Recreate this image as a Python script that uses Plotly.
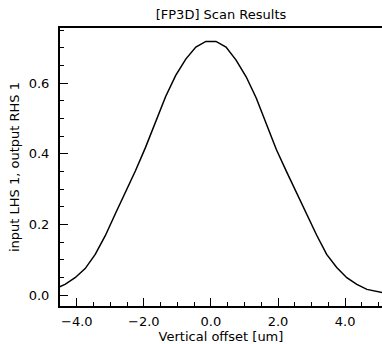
import plotly.graph_objects as go

offset_um = [-4.65, -4.35, -4.05, -3.75, -3.45, -3.15, -2.85, -2.55, -2.25, -1.95,
             -1.65, -1.35, -1.05, -0.75, -0.45, -0.15, 0.15, 0.45, 0.75, 1.05,
             1.35, 1.65, 1.95, 2.25, 2.55, 2.85, 3.15, 3.45, 3.75, 4.05,
             4.35, 4.65, 4.95, 5.25]
signal = [0.018, 0.030, 0.049, 0.075, 0.115, 0.168, 0.230, 0.290, 0.352, 0.418,
          0.492, 0.562, 0.622, 0.668, 0.702, 0.718, 0.718, 0.702, 0.665, 0.618,
          0.558, 0.485, 0.412, 0.350, 0.290, 0.227, 0.170, 0.115, 0.078, 0.049,
          0.030, 0.016, 0.009, 0.004]

x_ticks = [-4, -2, 0, 2, 4]
x_labels = ["−4.0", "−2.0", "0.0", "2.0", "4.0"]
y_ticks = [0.0, 0.2, 0.4, 0.6]
y_labels = ["0.0", "0.2", "0.4", "0.6"]

font = "DejaVu Sans"

fig = go.Figure()
fig.add_trace(go.Scatter(x=offset_um, y=signal, mode="lines",
                         line=dict(color="black", width=1.5), showlegend=False))

fig.update_layout(
    width=382, height=344,
    margin=dict(l=60, r=0, t=28, b=38),
    paper_bgcolor="white", plot_bgcolor="white",
    font=dict(family=font, size=13, color="black"),
    title=dict(text="[FP3D] Scan Results", x=(60 + 382) / 2 / 382, xanchor="center",
               y=1 - 14 / 344, yanchor="middle", font=dict(size=13)),
)
fig.update_xaxes(
    range=[-4.5, 5.1], showgrid=False, zeroline=False,
    showline=True, linecolor="black", linewidth=2, mirror=True,
    tickmode="array", tickvals=x_ticks, ticktext=x_labels,
    ticks="inside", ticklen=8, tickwidth=1.2, tickcolor="black",
    minor=dict(dtick=0.5, ticks="inside", ticklen=4, tickwidth=1.2, tickcolor="black"),
    title=dict(text="Vertical offset [um]", standoff=2, font=dict(size=13)),
    tickfont=dict(size=13), ticklabelstandoff=2,
)
fig.update_yaxes(
    range=[-0.031, 0.756], showgrid=False, zeroline=False,
    showline=True, linecolor="black", linewidth=2, mirror=False,
    tickmode="array", tickvals=y_ticks, ticktext=y_labels,
    ticks="inside", ticklen=8, tickwidth=1.2, tickcolor="black",
    minor=dict(dtick=0.05, tick0=0, ticks="inside", ticklen=4, tickwidth=1.2, tickcolor="black"),
    title=dict(text="input LHS 1, output RHS 1", standoff=6, font=dict(size=13)),
    tickfont=dict(size=13), ticklabelstandoff=6,
)

fig.write_html("out.html")
